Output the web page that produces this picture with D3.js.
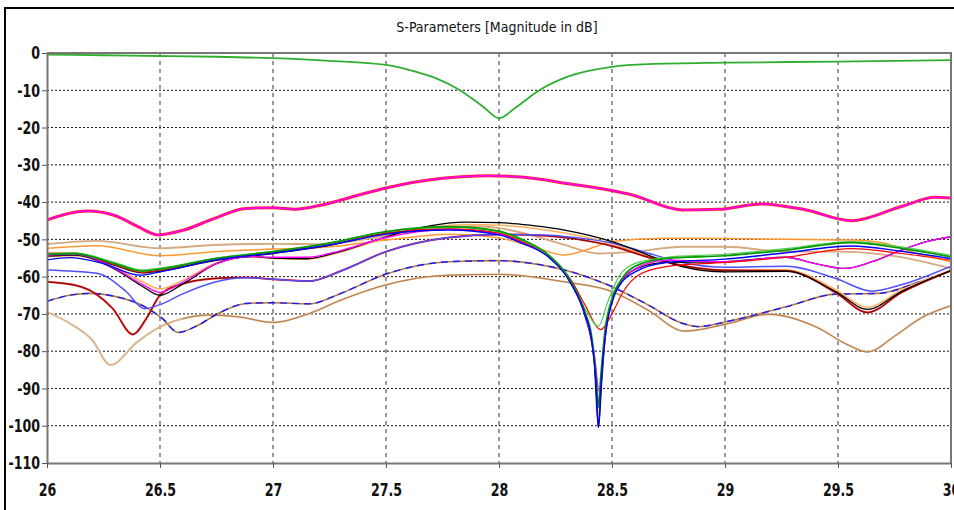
<!DOCTYPE html>
<html>
<head>
<meta charset="utf-8">
<script src="https://cdn.jsdelivr.net/npm/d3@7"></script>
<style>
  body { margin: 0; background: #fff; }
  svg { display: block; }
</style>
</head>
<body>
<div id="main"></div>
<script>
///////////
// DATA  //
///////////

// axis ticks
const xTicks = [26, 26.5, 27, 27.5, 28, 28.5, 29, 29.5, 30]
const yTicks = [0, -10, -20, -30, -40, -50, -60, -70, -80, -90, -100, -110]

// [frequency GHz, dB]
const s11 = [[26,-0.4],[26.25,-0.6],[26.5,-0.8],[26.75,-1.0],[27,-1.4],[27.25,-2.1],[27.5,-3.2],[27.63,-5.0],[27.73,-7.0],[27.82,-9.7],[27.93,-14.4],[28,-17.5],[28.07,-14.8],[28.18,-9.9],[28.31,-6.2],[28.5,-3.7],[28.66,-3.0],[29,-2.6],[29.5,-2.3],[30,-1.9]]

const upperPair = [[26,-44.8],[26.1,-43],[26.18,-42.4],[26.3,-43.6],[26.4,-46.5],[26.49,-48.8],[26.6,-47.6],[26.74,-44.4],[26.88,-41.7],[27,-41.5],[27.1,-41.9],[27.2,-41],[27.38,-38.1],[27.5,-36.2],[27.75,-33.6],[27.95,-32.9],[28.1,-33.3],[28.3,-35],[28.59,-38.1],[28.81,-42.1],[28.97,-41.95],[29.16,-40.5],[29.35,-42],[29.56,-45],[29.78,-41.2],[29.93,-38.7],[30,-38.9]]

const tanUpper = [[26,-51.3],[26.22,-50.4],[26.5,-52.4],[26.74,-51.5],[27,-51.2],[27.2,-51.3],[27.35,-50.5],[27.5,-49],[27.7,-47],[27.9,-46.5],[28,-47],[28.15,-49],[28.29,-51.5],[28.44,-53.8],[28.6,-53.3],[28.81,-52],[29,-52],[29.27,-53.3],[29.5,-53.3],[29.75,-54.5],[30,-57.8]]

const orangeUpper = [[26,-52.4],[26.22,-51.7],[26.5,-54.4],[26.74,-53.3],[27,-52.6],[27.25,-52],[27.5,-50.2],[27.78,-48.6],[28,-49.6],[28.15,-52],[28.29,-54.2],[28.4,-52.5],[28.5,-50.6],[28.74,-49.7],[29,-49.8],[29.56,-50.2],[29.7,-51],[29.85,-53.8],[30,-56]]

const greenDeep = [[26,-54],[26.12,-53.8],[26.3,-56.5],[26.42,-58.5],[26.5,-58],[26.75,-55.1],[27,-53.3],[27.25,-51],[27.5,-47.9],[27.78,-46.6],[28,-47.8],[28.1,-50],[28.22,-54.2],[28.32,-61.4],[28.38,-69.4],[28.41,-76],[28.43,-87],[28.44,-95],[28.45,-87],[28.47,-74],[28.5,-66],[28.55,-60],[28.6,-57.3],[28.74,-55.1],[29,-54.4],[29.27,-52.9],[29.56,-50.9],[29.78,-52.4],[30,-54.7]]

const blueDeep = [[26,-55.5],[26.1,-54.9],[26.25,-56.5],[26.41,-59.6],[26.5,-58.7],[26.75,-55.5],[27,-53.7],[27.25,-51.5],[27.5,-48.6],[27.78,-47.5],[28,-48.8],[28.1,-51],[28.22,-54.8],[28.32,-62],[28.38,-70],[28.41,-77],[28.43,-89],[28.44,-100.5],[28.45,-90],[28.47,-76],[28.5,-67],[28.55,-61],[28.6,-58.8],[28.74,-56.2],[29,-55.3],[29.27,-53.6],[29.56,-51.8],[29.78,-53.2],[30,-55.2]]

const greenShallow = [[26,-53.8],[26.12,-53.6],[26.3,-56.2],[26.42,-58.2],[26.5,-57.7],[26.75,-55],[27,-53.2],[27.25,-51],[27.5,-48],[27.78,-46.8],[28,-48],[28.1,-50.2],[28.22,-54.4],[28.32,-61.5],[28.38,-68.5],[28.44,-73.3],[28.48,-67],[28.53,-60],[28.6,-56.5],[28.74,-54.8],[29,-54],[29.27,-52.5],[29.56,-50.6],[29.78,-52],[30,-54.3]]

const redShallow = [[26,-53.7],[26.12,-53.7],[26.3,-56.8],[26.42,-58.8],[26.5,-58.3],[26.75,-55.4],[27,-53.6],[27.25,-51.5],[27.5,-48.3],[27.78,-47.2],[28,-48.3],[28.1,-50.5],[28.22,-54.6],[28.32,-61],[28.38,-67.5],[28.45,-74.2],[28.5,-70],[28.55,-64],[28.62,-59.5],[28.74,-57.3],[29,-56.2],[29.27,-54.8],[29.56,-52.5],[29.78,-53.8],[30,-55.6]]

const magentaDeep = [[26,-54.2],[26.12,-54],[26.3,-57.8],[26.42,-62],[26.5,-64.2],[26.6,-61.5],[26.75,-56.5],[26.9,-54.6],[27,-54.8],[27.15,-54.8],[27.3,-53],[27.5,-49.5],[27.78,-47.3],[28,-48.5],[28.1,-50.8],[28.22,-54.6],[28.32,-61.8],[28.38,-70],[28.42,-80],[28.445,-91],[28.46,-82],[28.48,-72],[28.52,-63.5],[28.6,-58],[28.74,-55.6],[29,-56],[29.27,-54.8],[29.4,-56.5],[29.53,-57.8],[29.65,-56],[29.78,-52.9],[29.9,-50.5],[30,-49.3]]

const blackDeep = [[26,-53.9],[26.12,-53.9],[26.3,-57],[26.42,-59],[26.5,-58.5],[26.75,-55.6],[27,-53.8],[27.25,-51.6],[27.5,-48.4],[27.78,-47.3],[28,-48.4],[28.1,-50.6],[28.22,-54.7],[28.32,-62],[28.38,-70.5],[28.42,-82],[28.44,-100.5],[28.455,-88],[28.47,-76],[28.5,-66],[28.56,-60],[28.62,-57.6],[28.74,-56.2],[29,-56],[29.27,-54.8],[29.4,-56.5],[29.53,-57.8],[29.65,-56],[29.78,-52.9],[29.9,-50.5],[30,-49.3]]

const blackTop = [[26,-54.5],[26.12,-54.2],[26.3,-58],[26.42,-62.5],[26.5,-65],[26.6,-62],[26.75,-56.5],[26.9,-54.6],[27,-55],[27.15,-55.2],[27.3,-53.2],[27.5,-49.3],[27.7,-46.3],[27.85,-45.4],[28,-45.5],[28.15,-46.3],[28.29,-47.5],[28.5,-50.6],[28.66,-54.2],[28.81,-57.3],[29,-58.7],[29.27,-58.6],[29.49,-64],[29.63,-68.8],[29.78,-64],[30,-58.4]]

const orangeLow = [[26,-54.6],[26.12,-54.4],[26.3,-57.6],[26.42,-61.3],[26.5,-63.3],[26.6,-61],[26.75,-56.3],[26.9,-54.7],[27,-55.1],[27.15,-55.3],[27.3,-53.4],[27.5,-49.6],[27.7,-46.8],[27.85,-46],[28,-46.2],[28.15,-47],[28.29,-48.3],[28.5,-51.2],[28.66,-54.6],[28.81,-57.2],[29,-58.4],[29.27,-58.2],[29.49,-63.5],[29.63,-68.2],[29.78,-63.6],[30,-58.2]]

const redDip = [[26,-61.4],[26.15,-62.7],[26.29,-68.5],[26.38,-75.5],[26.44,-71.2],[26.5,-65],[26.59,-62.1],[26.74,-60.5],[26.88,-60.2],[27,-60.7],[27.16,-61.2],[27.3,-58.5],[27.5,-53.3],[27.78,-49.5],[28,-48.7],[28.2,-49],[28.35,-50],[28.5,-51.8],[28.66,-54.8],[28.81,-57],[29,-58.3],[29.27,-58.4],[29.49,-64.3],[29.63,-69.6],[29.78,-64.3],[30,-58.4]]

const blueLight = [[26,-58.2],[26.22,-59.1],[26.35,-64],[26.43,-68.6],[26.5,-67.5],[26.59,-64.9],[26.74,-61.5],[26.88,-60.3],[27,-60.7],[27.16,-61.2],[27.3,-58.5],[27.5,-53.3],[27.78,-49.5],[28,-48.7],[28.2,-48.8],[28.35,-49.6],[28.5,-51],[28.66,-53.7],[28.81,-56.2],[29,-57.5],[29.27,-57.2],[29.49,-60.5],[29.65,-63.9],[29.78,-62.2],[30,-57.2]]

const brownPair = [[26,-66.6],[26.1,-65],[26.19,-64.5],[26.3,-65.3],[26.44,-68.3],[26.51,-71.2],[26.58,-75],[26.66,-73.3],[26.76,-69.8],[26.88,-67.2],[27,-67],[27.16,-67.3],[27.3,-64.5],[27.5,-59.3],[27.78,-56],[28,-55.7],[28.15,-56.5],[28.29,-58.2],[28.5,-62.7],[28.66,-67.6],[28.81,-72.5],[28.88,-73.4],[29.02,-71.9],[29.27,-68.1],[29.49,-64.7],[29.68,-64.5],[29.85,-61.6],[30,-58.4]]

const tanLow = [[26,-69.5],[26.1,-72.5],[26.2,-77],[26.28,-83.7],[26.4,-77.5],[26.5,-73.5],[26.6,-71.3],[26.71,-70.3],[26.85,-70.8],[27,-72.3],[27.16,-69.9],[27.3,-66.3],[27.5,-62.2],[27.78,-59.6],[28,-59.4],[28.29,-61.4],[28.5,-64],[28.66,-69],[28.82,-74.6],[29.02,-72.5],[29.19,-70.1],[29.4,-73.4],[29.55,-78.5],[29.63,-80.2],[29.75,-76],[29.87,-71],[30,-67.8]]

const brownLow = [[26.6,-71.3],[26.71,-70.3],[26.85,-70.8],[27,-72.3],[27.16,-69.9],[27.3,-66.3],[27.5,-62.2],[27.78,-59.6],[28,-59.4],[28.29,-61.4],[28.5,-64],[28.66,-69],[28.82,-74.6],[29.02,-72.5],[29.19,-70.1],[29.4,-73.4],[29.55,-78.5],[29.63,-80.2],[29.75,-76],[29.87,-71],[30,-67.8]]

// draw order, bottom first
const series = [
  { pts: tanLow,       color: '#dcb48e', w: 1.9 },
  { pts: brownLow,     color: '#b97a42', w: 1.0 },
  { pts: brownPair,    color: '#b97a42', w: 1.6 },
  { pts: brownPair,    color: '#1a1aff', w: 1.4, dash: '7,5' },
  { pts: tanUpper,     color: '#d6aa80', w: 1.9 },
  { pts: orangeUpper,  color: '#ff9933', w: 1.5 },
  { pts: orangeLow,    color: '#ffb060', w: 1.6 },
  { pts: redDip,       color: '#ff1a1a', w: 2.0 },
  { pts: redDip,       color: '#000',    w: 0.6 },
  { pts: blueLight,    color: '#5050ff', w: 1.5 },
  { pts: blackTop,     color: '#000',    w: 1.3 },
  { pts: blackDeep,    color: '#111',    w: 1.3 },
  { pts: magentaDeep,  color: '#ff00ff', w: 1.3 },
  { pts: redShallow,   color: '#ff0000', w: 1.2 },
  { pts: greenShallow, color: '#55cc55', w: 1.2 },
  { pts: greenDeep,    color: '#009a00', w: 1.7 },
  { pts: blueDeep,     color: '#0000ff', w: 1.4 },
  { pts: upperPair,    color: '#ff2020', w: 3.0 },
  { pts: upperPair,    color: '#ff00ff', w: 1.5 },
  { pts: s11,          color: '#2fae2f', w: 1.8 }
]

///////////
// SETUP //
///////////
const width = 954
const height = 510
const plot = { left: 47, right: 951, top: 53, bottom: 463 }

let x = d3.scaleLinear().domain([26, 30]).range([plot.left, plot.right])
let y = d3.scaleLinear().domain([-110, 0]).range([plot.bottom, plot.top])

let line = d3.line()
  .x(d => x(d[0]))
  .y(d => y(d[1]))
  .curve(d3.curveMonotoneX)

let svg = d3.select('#main').append('svg')
  .attr('width', width)
  .attr('height', height)

const labelFont = '"DejaVu Sans Condensed", "DejaVu Sans", sans-serif'

// outer frame (only top and left edges show)
svg.append('path')
  .attr('d', 'M5,510V8H954')
  .attr('fill', 'none')
  .attr('stroke', '#000')
  .attr('stroke-width', 2)

svg.append('text')
  .attr('x', 497)
  .attr('y', 32)
  .attr('text-anchor', 'middle')
  .style('font-family', labelFont)
  .style('font-size', '14px')
  .attr('fill', '#111')
  .text('S-Parameters [Magnitude in dB]')

//////////
// GRID //
//////////
svg.append('g').selectAll('line')
  .data(yTicks.filter(d => d > -110 && d < 0))
  .enter().append('line')
    .attr('x1', plot.left).attr('x2', plot.right)
    .attr('y1', d => y(d)).attr('y2', d => y(d))
    .attr('stroke', '#111')
    .attr('stroke-width', 1)
    .attr('stroke-dasharray', '2,2')

svg.append('g').selectAll('line')
  .data(xTicks.filter(d => d > 26 && d < 30))
  .enter().append('line')
    .attr('x1', d => x(d)).attr('x2', d => x(d))
    .attr('y1', plot.top).attr('y2', plot.bottom)
    .attr('stroke', '#333')
    .attr('stroke-width', 1)
    .attr('stroke-dasharray', '4,4')

///////////
// LINES //
///////////
svg.append('clipPath').attr('id', 'clip')
  .append('rect')
    .attr('x', plot.left).attr('y', plot.top - 2)
    .attr('width', plot.right - plot.left).attr('height', plot.bottom - plot.top + 2)

svg.append('g').attr('clip-path', 'url(#clip)')
  .selectAll('path')
  .data(series)
  .enter().append('path')
    .attr('d', d => line(d.pts))
    .attr('fill', 'none')
    .attr('stroke', d => d.color)
    .attr('stroke-width', d => d.w)
    .attr('stroke-dasharray', d => d.dash || null)
    .attr('stroke-linejoin', 'round')

//////////
// AXES //
//////////
let yAxis = svg.append('g')
  .attr('transform', `translate(${plot.left},0)`)
  .call(d3.axisLeft(y).tickValues(yTicks).tickSize(5).tickSizeOuter(0).tickFormat(d => String(d)))

let xAxis = svg.append('g')
  .attr('transform', `translate(0,${plot.bottom})`)
  .call(d3.axisBottom(x).tickValues(xTicks).tickSize(5).tickSizeOuter(0).tickPadding(15).tickFormat(d => String(d)))

// narrow bold labels, squeezed sideways
svg.selectAll('.tick text')
  .style('font-family', labelFont)
  .style('font-size', '18px')
  .style('font-weight', 'bold')
  .attr('fill', '#111')

yAxis.selectAll('.tick text')
  .attr('x', 0)
  .attr('transform', 'translate(-7,0) scale(0.78,1)')

xAxis.selectAll('.tick text')
  .attr('transform', 'scale(0.78,1)')

svg.selectAll('.tick line').attr('stroke', '#555')
svg.selectAll('.domain').attr('stroke', '#777').attr('stroke-width', 2)

// top and right edges of plot box
svg.append('path')
  .attr('d', `M${plot.left},${plot.top}H${plot.right}V${plot.bottom}`)
  .attr('fill', 'none')
  .attr('stroke', '#777')
  .attr('stroke-width', 2)
</script>
</body>
</html>
